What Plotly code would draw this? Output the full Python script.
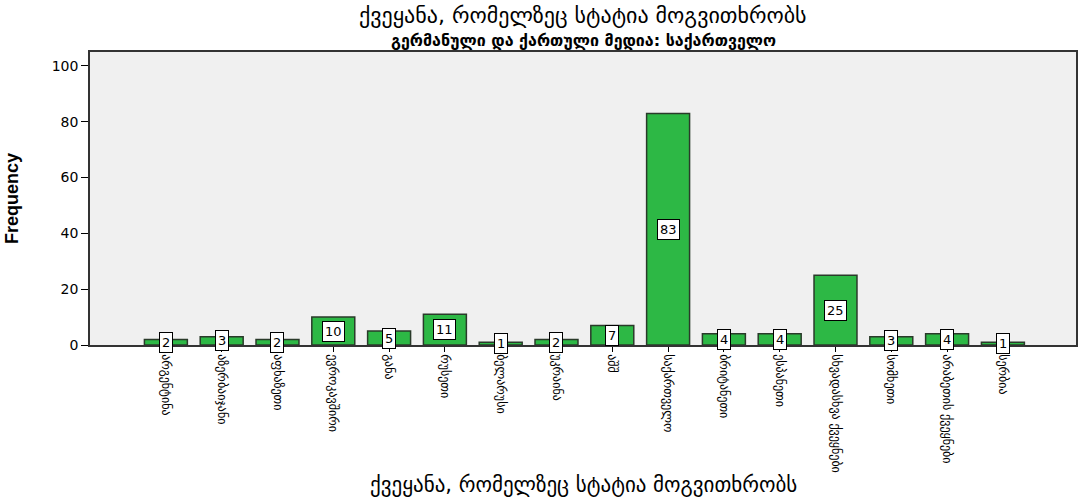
import plotly.graph_objects as go

categories = [
    "არგენტინა", "აზერბაიჯანი", "აფხაზეთი", "ევროკავშირი", "განა",
    "რუსეთი", "ბელარუსი", "უკრაინა", "აშშ", "საქართველო",
    "ბრიტანეთი", "ესპანეთი", "სხვადასხვა ქვეყნები", "სომხეთი",
    "არაბეთის ქვეყნები", "სერბია",
]
counts = [2, 3, 2, 10, 5, 11, 1, 2, 7, 83, 4, 4, 25, 3, 4, 1]

title_text = "ქვეყანა, რომელზეც სტატია მოგვითხრობს"
subtitle_text = "გერმანული და ქართული მედია: საქართველო"
y_title = "Frequency"
y_ticks = [0, 20, 40, 60, 80, 100]

x_idx = list(range(len(categories)))

fig = go.Figure()
fig.add_trace(go.Bar(
    x=x_idx, y=counts, width=0.77,
    marker=dict(color="#2db845", line=dict(color="#2a3a2a", width=1.5)),
    hoverinfo="x+y",
))

for i, v in zip(x_idx, counts):
    fig.add_annotation(
        x=i, y=v / 2, text=str(v), showarrow=False,
        bgcolor="white", bordercolor="black", borderwidth=1, borderpad=2,
        font=dict(family="DejaVu Sans", size=13, color="black"),
    )

fig.add_annotation(
    x=0.5, y=1, xref="paper", yref="paper", xanchor="center", yanchor="bottom",
    yshift=22, text=title_text, showarrow=False,
    font=dict(family="DejaVu Sans", size=22, color="black"),
)
fig.add_annotation(
    x=0.5, y=1, xref="paper", yref="paper", xanchor="center", yanchor="bottom",
    yshift=0, text="<b>" + subtitle_text + "</b>", showarrow=False,
    font=dict(family="DejaVu Sans", size=16, color="black"),
)
fig.add_annotation(
    x=0.5, y=0, xref="paper", yref="paper", xanchor="center", yanchor="top",
    yshift=-126, text=title_text, showarrow=False,
    font=dict(family="DejaVu Sans", size=21, color="black"),
)

fig.update_layout(
    width=1083, height=502,
    margin=dict(l=90, r=5, t=52, b=157),
    paper_bgcolor="white", plot_bgcolor="#f0f0f0",
    showlegend=False,
)
fig.update_xaxes(
    tickmode="array", tickvals=x_idx, ticktext=categories, tickangle=90,
    range=[-1.36, 16.31], showline=True, linecolor="#333333", linewidth=1.5,
    mirror=True, ticks="outside", ticklen=5, tickcolor="black",
    tickfont=dict(family="DejaVu Sans", size=12, color="black"),
    showgrid=False, zeroline=False,
)
fig.update_yaxes(
    range=[0, 105], tickvals=y_ticks, showline=True, linecolor="#333333",
    linewidth=1.5, mirror=True, ticks="outside", ticklen=7, tickcolor="black",
    tickfont=dict(family="DejaVu Sans", size=14, color="black"),
    showgrid=False, zeroline=False,
    title=dict(text="<b>" + y_title + "</b>", standoff=28,
               font=dict(family="Liberation Sans Narrow, Liberation Sans", size=18, color="black")),
)

fig.write_html("out.html")
